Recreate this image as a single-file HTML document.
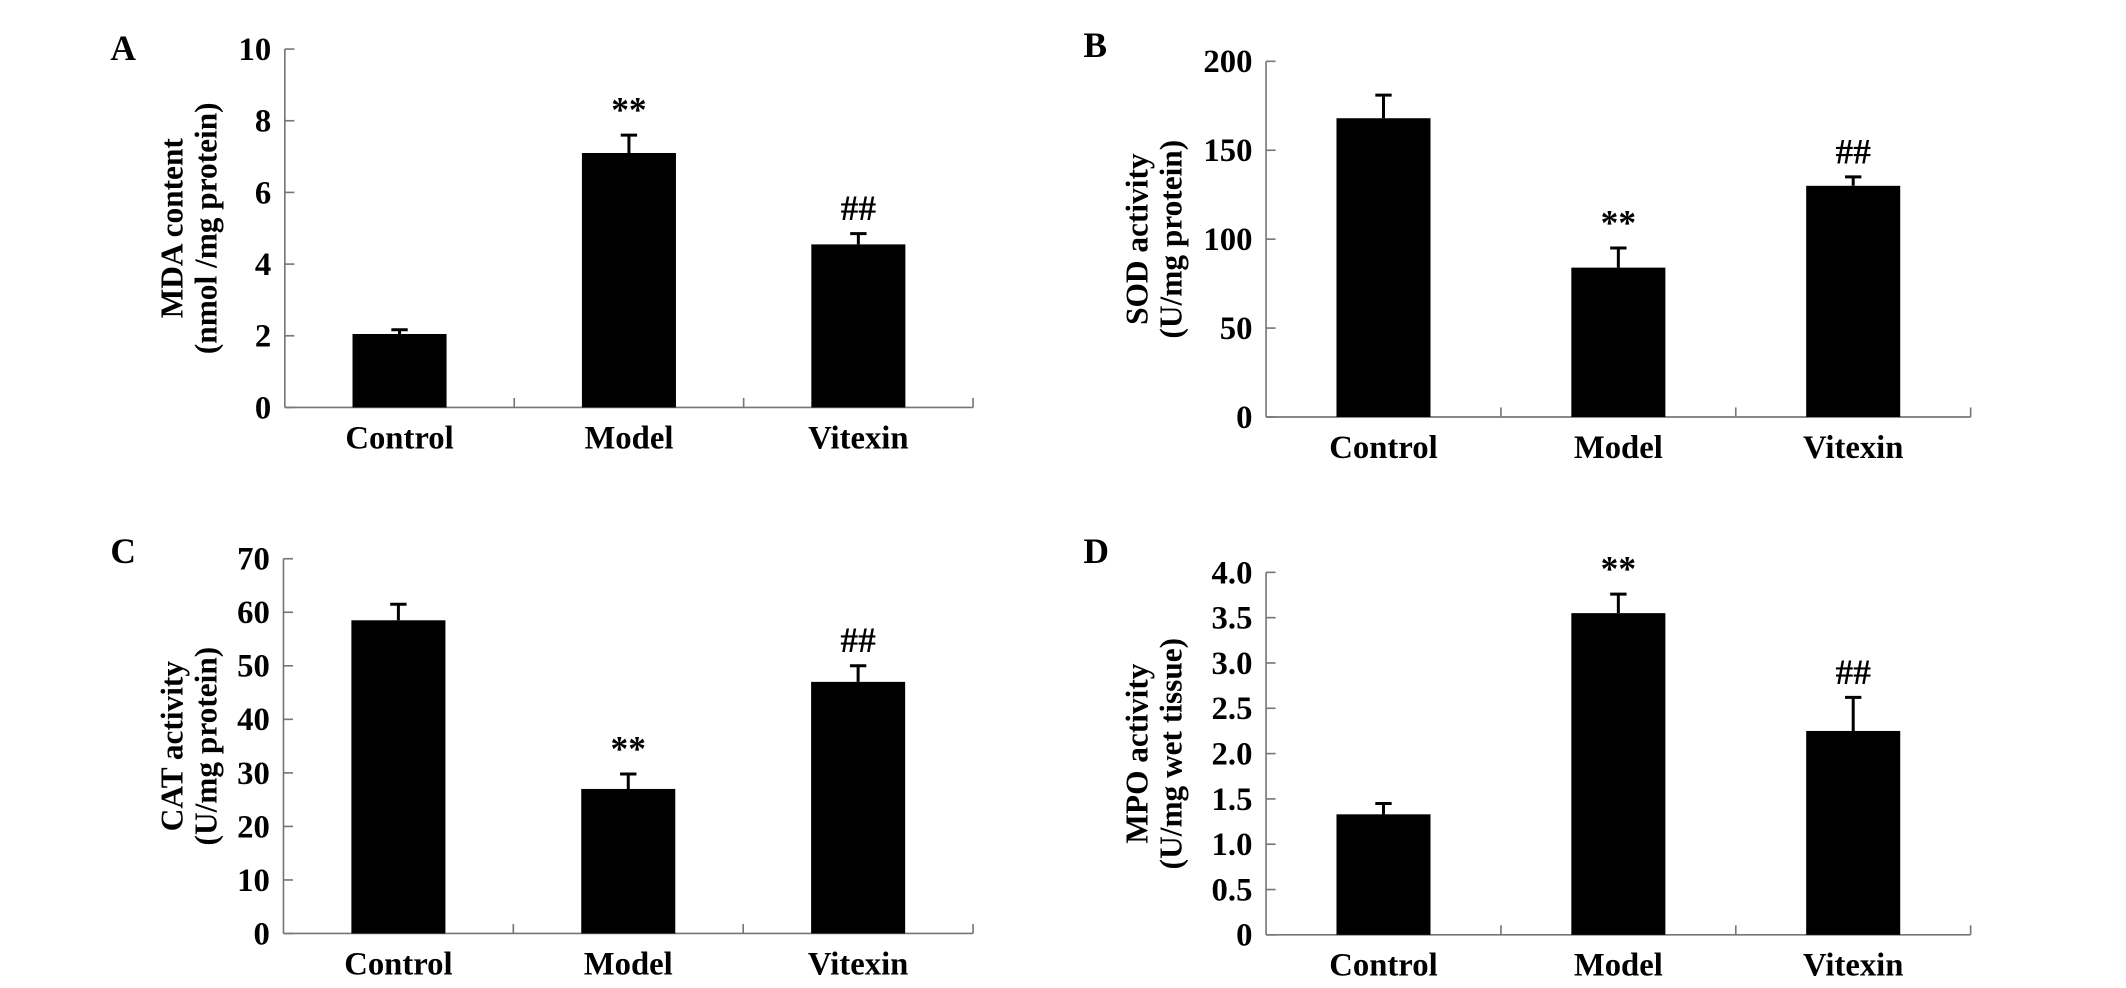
<!DOCTYPE html>
<html><head><meta charset="utf-8"><style>
html,body{margin:0;padding:0;background:#fff;}
svg{display:block;font-family:"Liberation Serif",serif;font-weight:bold;}
</style></head><body>
<svg id="fig" width="2126" height="988" viewBox="0 0 1560 725" preserveAspectRatio="none" xmlns="http://www.w3.org/2000/svg"></svg>
<script>
const categories = ["Control","Model","Vitexin"];
const mdaValues = [2.05, 7.1, 4.55];
const mdaErrors = [0.12, 0.5, 0.3];
const mdaTicks = [0,2,4,6,8,10];
const sodValues = [168, 84, 130];
const sodErrors = [13, 11, 5];
const sodTicks = [0,50,100,150,200];
const catValues = [58.5, 27, 47];
const catErrors = [3, 2.8, 3];
const catTicks = [0,10,20,30,40,50,60,70];
const mpoValues = [1.33, 3.55, 2.25];
const mpoErrors = [0.12, 0.21, 0.37];
const mpoTicks = [0,0.5,1.0,1.5,2.0,2.5,3.0,3.5,4.0];
const mpoTickLabels = ["0","0.5","1.0","1.5","2.0","2.5","3.0","3.5","4.0"];
const mdaMarks = ["", "**", "##"];
const sodMarks = ["", "**", "##"];
const catMarks = ["", "**", "##"];
const mpoMarks = ["", "**", "##"];

const NS = "http://www.w3.org/2000/svg";
const svg = document.getElementById('fig');
function mk(tag, attrs, parent){
  const e = document.createElementNS(NS, tag);
  for (const k in attrs) e.setAttribute(k, attrs[k]);
  (parent||svg).appendChild(e);
  return e;
}
function panel(cfg){
  const g = mk('g', {});
  
  
  const {x0,x1,yTop,yBot,max} = cfg;
  const y = v => yBot - (v/max)*(yBot-yTop);
  const band = (x1-x0)/categories.length;
  const cx = i => x0 + band*(i+0.5);
  const L = mk('text', {x: cfg.lx, y: cfg.ly, 'font-size': 26}, g);
  L.textContent = cfg.letter;
  
  
  const ya = mk('line', {x1:x0, y1:yTop, x2:x0, y2:yBot, stroke:'#777', 'stroke-width':1.2}, g);
  
  
  const xa = mk('line', {x1:x0, y1:yBot, x2:x1, y2:yBot, stroke:'#777', 'stroke-width':1.2}, g);
  
  
  cfg.ticks.forEach((t,i)=>{
    const tk = mk('line', {x1:x0, y1:y(t), x2:x0+7, y2:y(t), stroke:'#777', 'stroke-width':1.2}, g);
    
    
    const tl = mk('text', {x:x0-10, y:y(t)+8, 'font-size':24, 'text-anchor':'end'}, g);
    tl.textContent = cfg.tickLabels ? cfg.tickLabels[i] : String(t);
    
    
  });
  for (let i=1;i<=categories.length;i++){
    const xt = x0 + band*i;
    const tk = mk('line', {x1:xt, y1:yBot, x2:xt, y2:yBot-7, stroke:'#777', 'stroke-width':1.2}, g);
    
    
  }
  const bw = 69;
  categories.forEach((c,i)=>{
    const v = cfg.values[i], e = cfg.errors[i];
    const b = mk('rect', {x:cx(i)-bw/2, y:y(v), width:bw, height:yBot-y(v), fill:'#000'}, g);
    
    
    const el = mk('path', {d:`M${cx(i)} ${y(v)}V${y(v+e)}M${cx(i)-6} ${y(v+e)}H${cx(i)+6}`, stroke:'#000', 'stroke-width':2.2, fill:'none'}, g);
    
    
    const cl = mk('text', {x:cx(i), y:yBot+30, 'font-size':24, 'text-anchor':'middle'}, g);
    cl.textContent = c;
    
    
    if (cfg.marks[i]){
      const m = mk('text', {x:cx(i), y:y(v+e)-10, 'font-size':26, 'text-anchor':'middle'}, g);
      m.textContent = cfg.marks[i];
      
      
    }
  });
  const ymid = (yTop+yBot)/2;
  const t1 = mk('text', {x:0, y:0, 'font-size':23, 'text-anchor':'middle', transform:`translate(${cfg.tx} ${ymid}) rotate(-90)`}, g);
  t1.textContent = cfg.title1;
  
  
  const t2 = mk('text', {x:0, y:0, 'font-size':23, 'text-anchor':'middle', transform:`translate(${cfg.tx+25} ${ymid}) rotate(-90)`}, g);
  t2.textContent = cfg.title2;
  
  
}
panel({letter:'A', lx:81, ly:44, x0:209, x1:714, yTop:36, yBot:299, max:10, ticks:mdaTicks, values:mdaValues, errors:mdaErrors, marks:mdaMarks, tx:134, title1:'MDA content', title2:'(nmol /mg protein)'});
panel({letter:'B', lx:795, ly:42, x0:929, x1:1446, yTop:45, yBot:306, max:200, ticks:sodTicks, values:sodValues, errors:sodErrors, marks:sodMarks, tx:842, title1:'SOD activity', title2:'(U/mg protein)'});
panel({letter:'C', lx:81, ly:413, x0:208, x1:714, yTop:410, yBot:685, max:70, ticks:catTicks, values:catValues, errors:catErrors, marks:catMarks, tx:134, title1:'CAT activity', title2:'(U/mg protein)'});
panel({letter:'D', lx:795, ly:413, x0:929, x1:1446, yTop:420, yBot:686, max:4, ticks:mpoTicks, tickLabels:mpoTickLabels, values:mpoValues, errors:mpoErrors, marks:mpoMarks, tx:842, title1:'MPO activity', title2:'(U/mg wet tissue)'});
</script>
</body></html>
